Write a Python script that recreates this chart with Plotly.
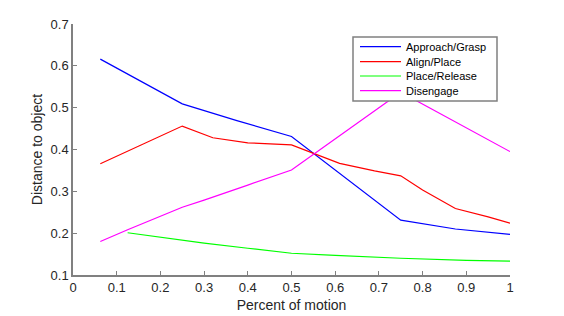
import plotly.graph_objects as go

approach_x = [0.0625, 0.25, 0.375, 0.5, 0.75, 0.875, 1.0]
approach_y = [0.616, 0.509, 0.469, 0.431, 0.231, 0.210, 0.197]

align_x = [0.0625, 0.25, 0.32, 0.4, 0.5, 0.56, 0.61, 0.69, 0.75, 0.8, 0.875, 0.95, 1.0]
align_y = [0.366, 0.456, 0.428, 0.416, 0.411, 0.386, 0.367, 0.349, 0.337, 0.303, 0.259, 0.239, 0.224]

release_x = [0.125, 0.3, 0.4, 0.5, 0.6, 0.75, 0.9, 1.0]
release_y = [0.201, 0.176, 0.164, 0.152, 0.147, 0.140, 0.135, 0.133]

diseng_x = [0.0625, 0.125, 0.25, 0.3, 0.4, 0.5, 0.75, 1.0]
diseng_y = [0.180, 0.208, 0.262, 0.279, 0.315, 0.351, 0.537, 0.395]

names = ["Approach/Grasp", "Align/Place", "Place/Release", "Disengage"]
colors = ["#0000ff", "#ff0000", "#00ff00", "#ff00ff"]
xs = [approach_x, align_x, release_x, diseng_x]
ys = [approach_y, align_y, release_y, diseng_y]

fig = go.Figure()
for n, c, x, y in zip(names, colors, xs, ys):
    fig.add_trace(go.Scatter(x=x, y=y, mode="lines", name=n,
                             line=dict(color=c, width=1.2), showlegend=False))

axis_common = dict(showgrid=False, zeroline=False, showline=True,
                   linecolor="#808080", linewidth=1.5, ticks="inside",
                   ticklen=4, tickcolor="#808080", mirror=False, automargin=False,
                   tickfont=dict(family="Liberation Sans, Arial", size=13, color="#262626"))

# manual legend (box, sample lines, labels) in paper coordinates
PL, PR, PT, PB = 73, 510, 24, 275
def px(x):
    return (x - PL) / (PR - PL)
def py(y):
    return (PB - y) / (PB - PT)

shapes = [dict(type="rect", xref="paper", yref="paper",
               x0=px(353), x1=px(497), y0=py(101), y1=py(37),
               fillcolor="white", line=dict(color="#808080", width=1.5), layer="above")]
annotations = []
row_y = [46.7, 61.7, 76.0, 90.7]
for n, c, ry in zip(names, colors, row_y):
    shapes.append(dict(type="line", xref="paper", yref="paper",
                       x0=px(360), x1=px(401), y0=py(ry), y1=py(ry),
                       line=dict(color=c, width=1.2), layer="above"))
    annotations.append(dict(text=n, xref="paper", yref="paper", x=px(404), y=py(ry),
                            xanchor="left", yanchor="middle", align="left", showarrow=False,
                            font=dict(size=11, color="#000000", family="Liberation Sans, Arial")))

fig.update_layout(
    width=564, height=316,
    margin=dict(l=PL, r=564 - PR, t=PT, b=316 - PB),
    paper_bgcolor="white", plot_bgcolor="white",
    font=dict(family="Liberation Sans, Arial", color="#262626"),
    xaxis=dict(range=[0, 1], dtick=0.1, tick0=0,
               title=dict(text="Percent of motion", font=dict(size=14), standoff=6),
               **axis_common),
    yaxis=dict(range=[0.1, 0.7], dtick=0.1, tick0=0.1,
               title=dict(text="Distance to object", font=dict(size=14), standoff=5),
               **axis_common),
    shapes=shapes,
    annotations=annotations,
    showlegend=False,
)

fig.write_html("out.html", config={"displayModeBar": False},
               post_script="document.body.style.margin='0';")
